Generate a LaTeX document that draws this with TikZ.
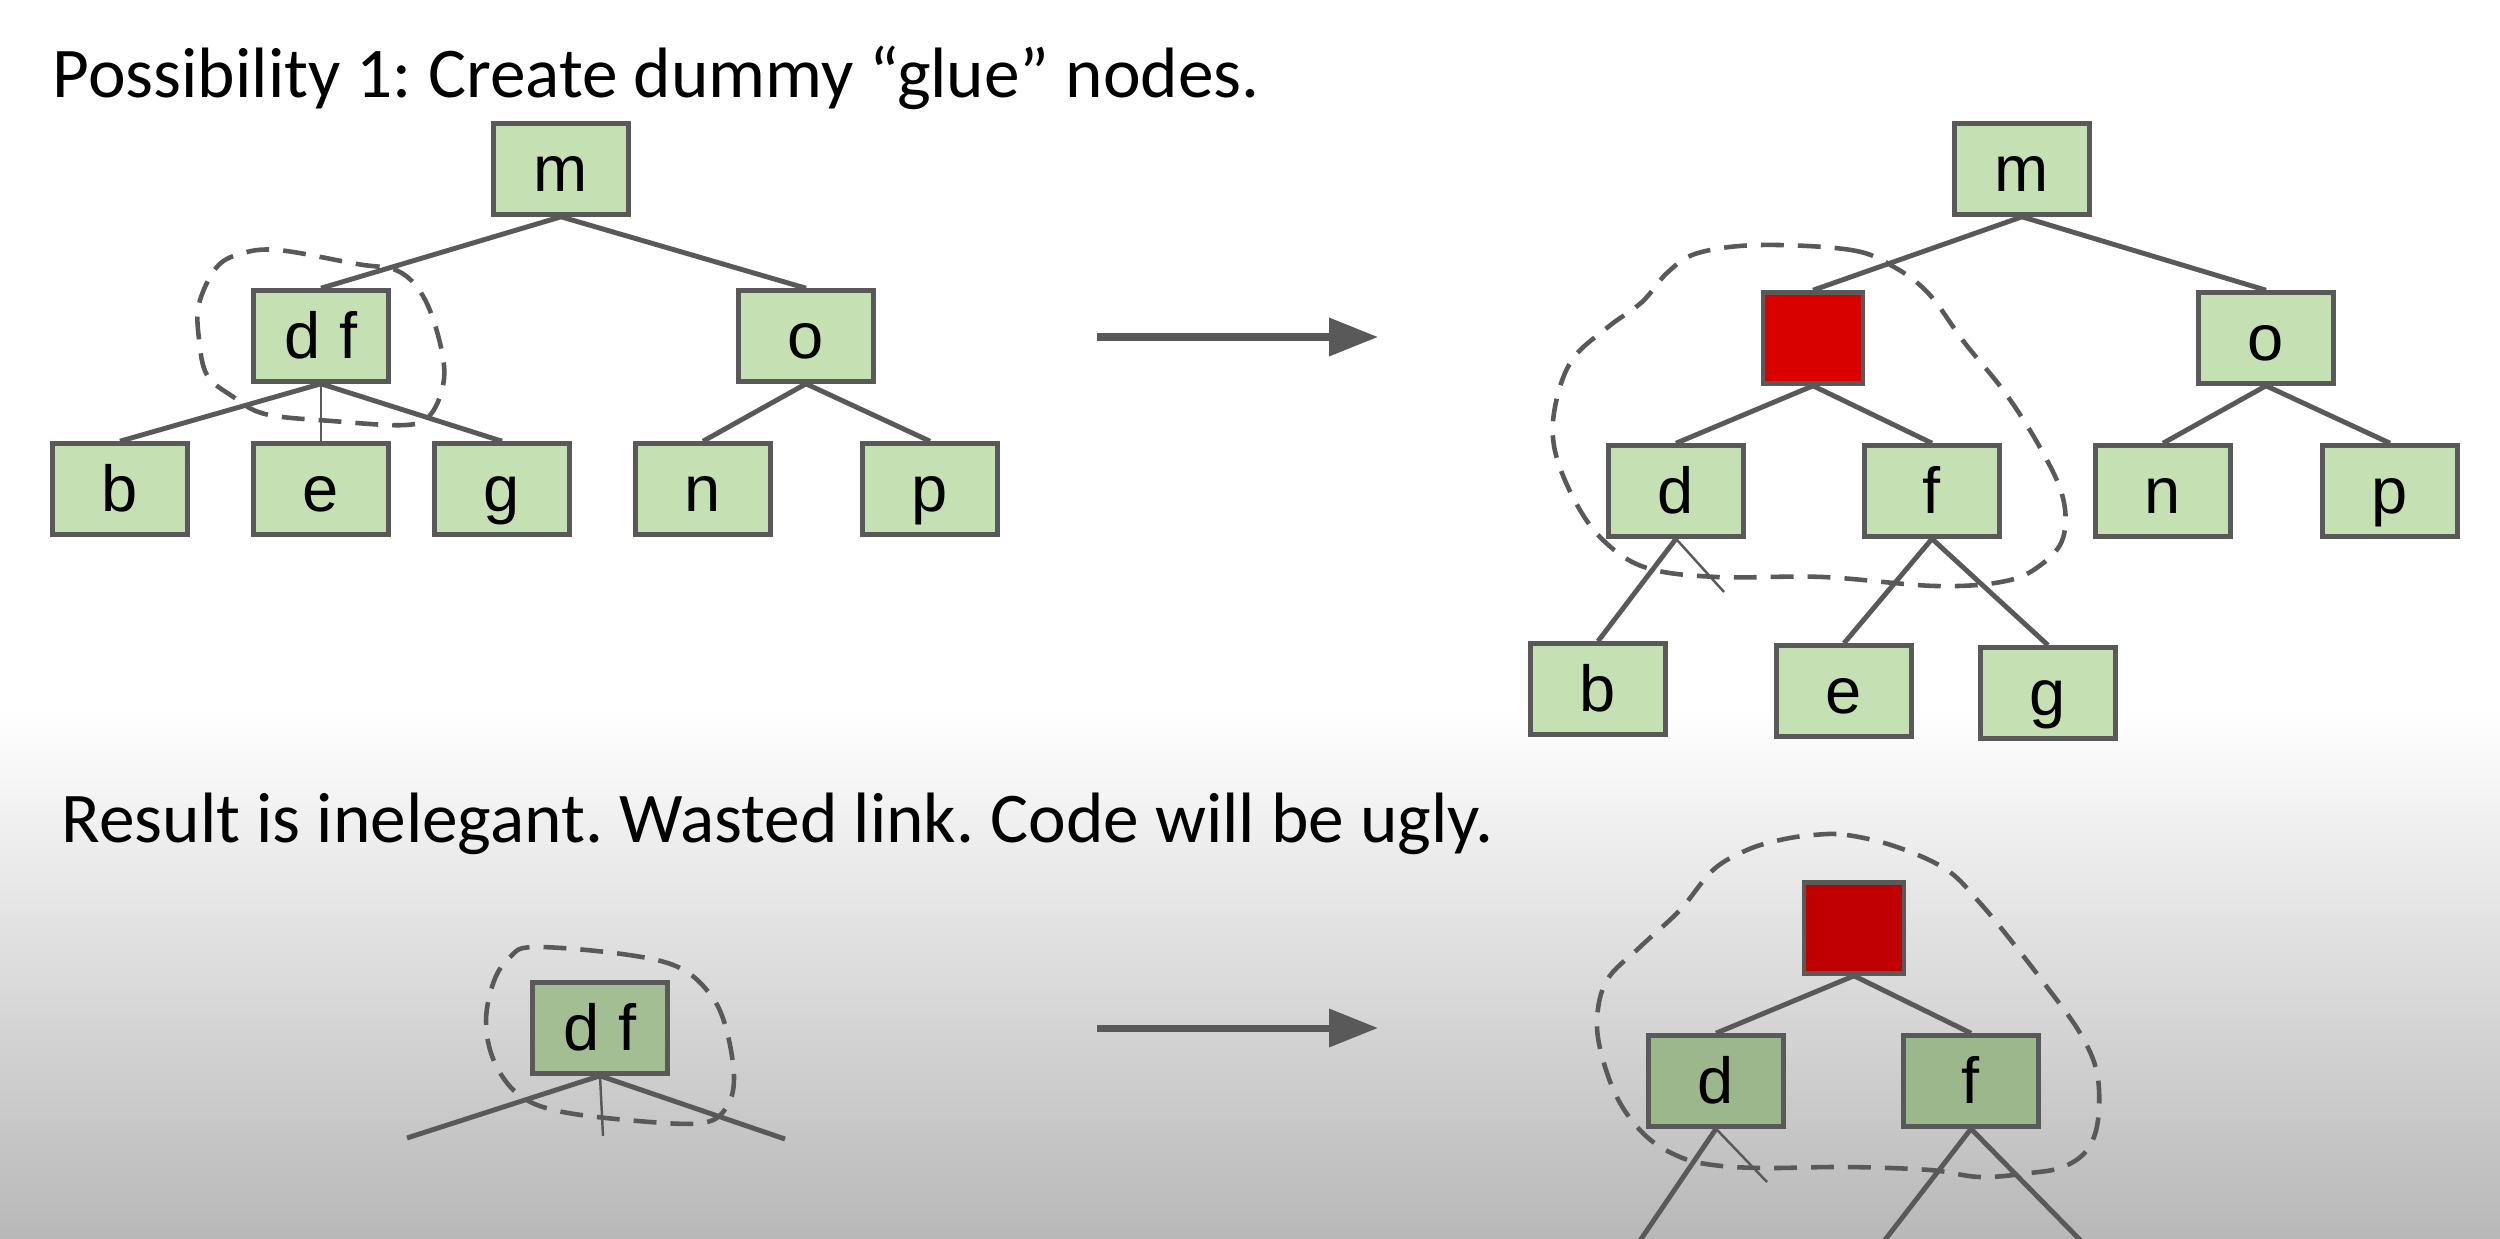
\documentclass[tikz,border=0pt]{standalone}
\usepackage{fontspec}
\setmainfont{Carlito}
\newfontfamily\nodefont{Liberation Sans}
\usepackage{xcolor}
\usepackage{tikz}
\usetikzlibrary{arrows.meta}
\definecolor{nodegreen}{HTML}{C5E0B3}
\definecolor{dfgreendark}{HTML}{A3BE93}
\definecolor{nodegreendark}{HTML}{9DB78C}
\definecolor{gluered}{HTML}{D90000}
\definecolor{gluereddark}{HTML}{C00000}
\definecolor{linegray}{HTML}{595959}
\definecolor{bggray}{HTML}{B8B8B8}
\frenchspacing

\begin{document}
\begin{tikzpicture}
    % Styles
    \tikzstyle{box} = [draw=linegray, line width=1.3pt, fill=nodegreen, minimum width=1.35cm, minimum height=0.91cm, inner sep=0pt, text height=12.8pt, text depth=0pt, font=\nodefont\fontsize{18.5}{20}\selectfont]
    \tikzstyle{glue} = [draw=linegray, line width=1.3pt, fill=gluered, minimum width=1.00cm, minimum height=0.91cm, inner sep=0pt]
    \tikzstyle{link} = [draw=linegray, line width=1.4pt]
    \tikzstyle{thinlink} = [draw=linegray, line width=0.7pt]
    \tikzstyle{blob} = [draw=linegray, line width=1.3pt, dash pattern=on 6.5pt off 4pt]
    \tikzstyle{bigarrow} = [draw=linegray, line width=2pt, -{Triangle[length=0.49cm, width=0.37cm]}]
    \tikzstyle{caption} = [anchor=base west, inner sep=0pt, font=\fontsize{20.3}{24}\selectfont]

    % Background
    \useasboundingbox (0,0) rectangle (25,-12.38);
    \fill[white] (0,0) rectangle (25,-12.38);
    \shade[top color=white, bottom color=bggray] (0,-7.1) rectangle (25,-12.38);

    % Captions
    \node[caption] (title) at (0.52,-0.97) {Possibility 1: Create dummy “glue” nodes.};
    \node[caption] (result) at (0.61,-8.42) {Result is inelegant. Wasted link. Code will be ugly.};

    % Left tree
    \node[box] (m1) at (5.61,-1.69) {m};
    \node[box] (df1) at (3.21,-3.36) {d f};
    \node[box] (o1) at (8.06,-3.36) {o};
    \node[box] (b1) at (1.20,-4.89) {b};
    \node[box] (e1) at (3.21,-4.89) {e};
    \node[box] (g1) at (5.02,-4.89) {g};
    \node[box] (n1) at (7.03,-4.89) {n};
    \node[box] (p1) at (9.30,-4.89) {p};

    \draw[link] (m1.south) -- (df1.north);
    \draw[link] (m1.south) -- (o1.north);
    \draw[link] (df1.south) -- (b1.north);
    \draw[thinlink] (df1.south) -- (e1.north);
    \draw[link] (df1.south) -- (g1.north);
    \draw[link] (o1.south) -- (n1.north);
    \draw[link] (o1.south) -- (p1.north);

    \draw[blob] plot[smooth cycle, tension=0.6] coordinates {(2.78,-2.50) (3.57,-2.64) (3.98,-2.71) (4.23,-2.96) (4.39,-3.39) (4.44,-3.79) (4.31,-4.14) (4.06,-4.25) (3.32,-4.21) (2.65,-4.14) (2.32,-3.96) (2.07,-3.75) (1.99,-3.39) (1.99,-3.04) (2.16,-2.68) (2.40,-2.54)};

    % Arrows
    \coordinate (a1s) at (10.97,-3.37);
    \coordinate (a1e) at (13.78,-3.37);
    \coordinate (a2s) at (10.97,-10.28);
    \coordinate (a2e) at (13.78,-10.28);
    \draw[bigarrow] (a1s) -- (a1e);
    \draw[bigarrow] (a2s) -- (a2e);

    % Right tree
    \node[box] (m2) at (20.22,-1.69) {m};
    \node[glue] (glue2) at (18.13,-3.38) {};
    \node[box] (o2) at (22.66,-3.38) {o};
    \node[box] (d2) at (16.76,-4.91) {d};
    \node[box] (f2) at (19.32,-4.91) {f};
    \node[box] (n2) at (21.63,-4.91) {n};
    \node[box] (p2) at (23.90,-4.91) {p};
    \node[box] (b2) at (15.98,-6.89) {b};
    \node[box] (e2) at (18.44,-6.91) {e};
    \node[box] (g2) at (20.48,-6.93) {g};
    \coordinate (d2tail) at (17.24,-5.92);

    \draw[link] (m2.south) -- (glue2.north);
    \draw[link] (m2.south) -- (o2.north);
    \draw[link] (glue2.south) -- (d2.north);
    \draw[link] (glue2.south) -- (f2.north);
    \draw[link] (o2.south) -- (n2.north);
    \draw[link] (o2.south) -- (p2.north);
    \draw[link] (d2.south) -- (b2.north);
    \draw[thinlink] (d2.south) -- (d2tail);
    \draw[link] (f2.south) -- (e2.north);
    \draw[link] (f2.south) -- (g2.north);

    \draw[blob] plot[smooth cycle, tension=0.6] coordinates {(17.60,-2.45) (18.51,-2.50) (18.94,-2.67) (19.29,-2.94) (19.64,-3.42) (20.06,-3.94) (20.42,-4.51) (20.63,-4.98) (20.63,-5.38) (20.42,-5.64) (20.06,-5.81) (19.36,-5.86) (18.23,-5.77) (17.17,-5.77) (16.47,-5.68) (16.05,-5.42) (15.76,-5.03) (15.55,-4.51) (15.55,-4.07) (15.72,-3.60) (16.08,-3.27) (16.42,-3.02) (16.68,-2.72) (16.98,-2.53)};

    % Bottom left: single node
    \node[box, fill=dfgreendark] (df3) at (6.00,-10.28) {d f};
    \coordinate (df3l) at (4.07,-11.38);
    \coordinate (df3m) at (6.03,-11.36);
    \coordinate (df3r) at (7.85,-11.39);
    \draw[link] (df3.south) -- (df3l);
    \draw[thinlink] (df3.south) -- (df3m);
    \draw[link] (df3.south) -- (df3r);

    \draw[blob] plot[smooth cycle, tension=0.6] coordinates {(5.34,-9.47) (6.22,-9.54) (6.78,-9.67) (7.10,-9.94) (7.26,-10.28) (7.34,-10.78) (7.26,-11.08) (7.02,-11.23) (6.38,-11.21) (5.58,-11.11) (5.18,-10.94) (4.94,-10.61) (4.86,-10.21) (4.94,-9.81) (5.10,-9.57)};

    % Bottom right: glue node
    \node[glue, fill=gluereddark] (glue3) at (18.54,-9.28) {};
    \node[box, fill=nodegreendark] (d3) at (17.16,-10.81) {d};
    \node[box, fill=nodegreendark] (f3) at (19.71,-10.81) {f};
    \coordinate (d3l) at (16.37,-12.45);
    \coordinate (d3tail) at (17.67,-11.82);
    \coordinate (f3l) at (18.81,-12.45);
    \coordinate (f3r) at (20.85,-12.45);

    \draw[link] (glue3.south) -- (d3.north);
    \draw[link] (glue3.south) -- (f3.north);
    \draw[link] (d3.south) -- (d3l);
    \draw[thinlink] (d3.south) -- (d3tail);
    \draw[link] (f3.south) -- (f3l);
    \draw[link] (f3.south) -- (f3r);

    \draw[blob] plot[smooth cycle, tension=0.6] coordinates {(18.13,-8.35) (18.47,-8.35) (18.97,-8.47) (19.47,-8.70) (19.80,-9.03) (20.13,-9.43) (20.47,-9.87) (20.80,-10.33) (20.97,-10.73) (20.98,-11.20) (20.87,-11.50) (20.63,-11.67) (20.30,-11.73) (19.80,-11.77) (19.30,-11.70) (18.47,-11.67) (17.63,-11.68) (17.13,-11.65) (16.80,-11.57) (16.47,-11.37) (16.20,-11.03) (16.03,-10.60) (15.97,-10.20) (16.07,-9.80) (16.40,-9.47) (16.80,-9.10) (17.13,-8.70) (17.47,-8.50) (17.80,-8.40)};
\end{tikzpicture}
\end{document}
